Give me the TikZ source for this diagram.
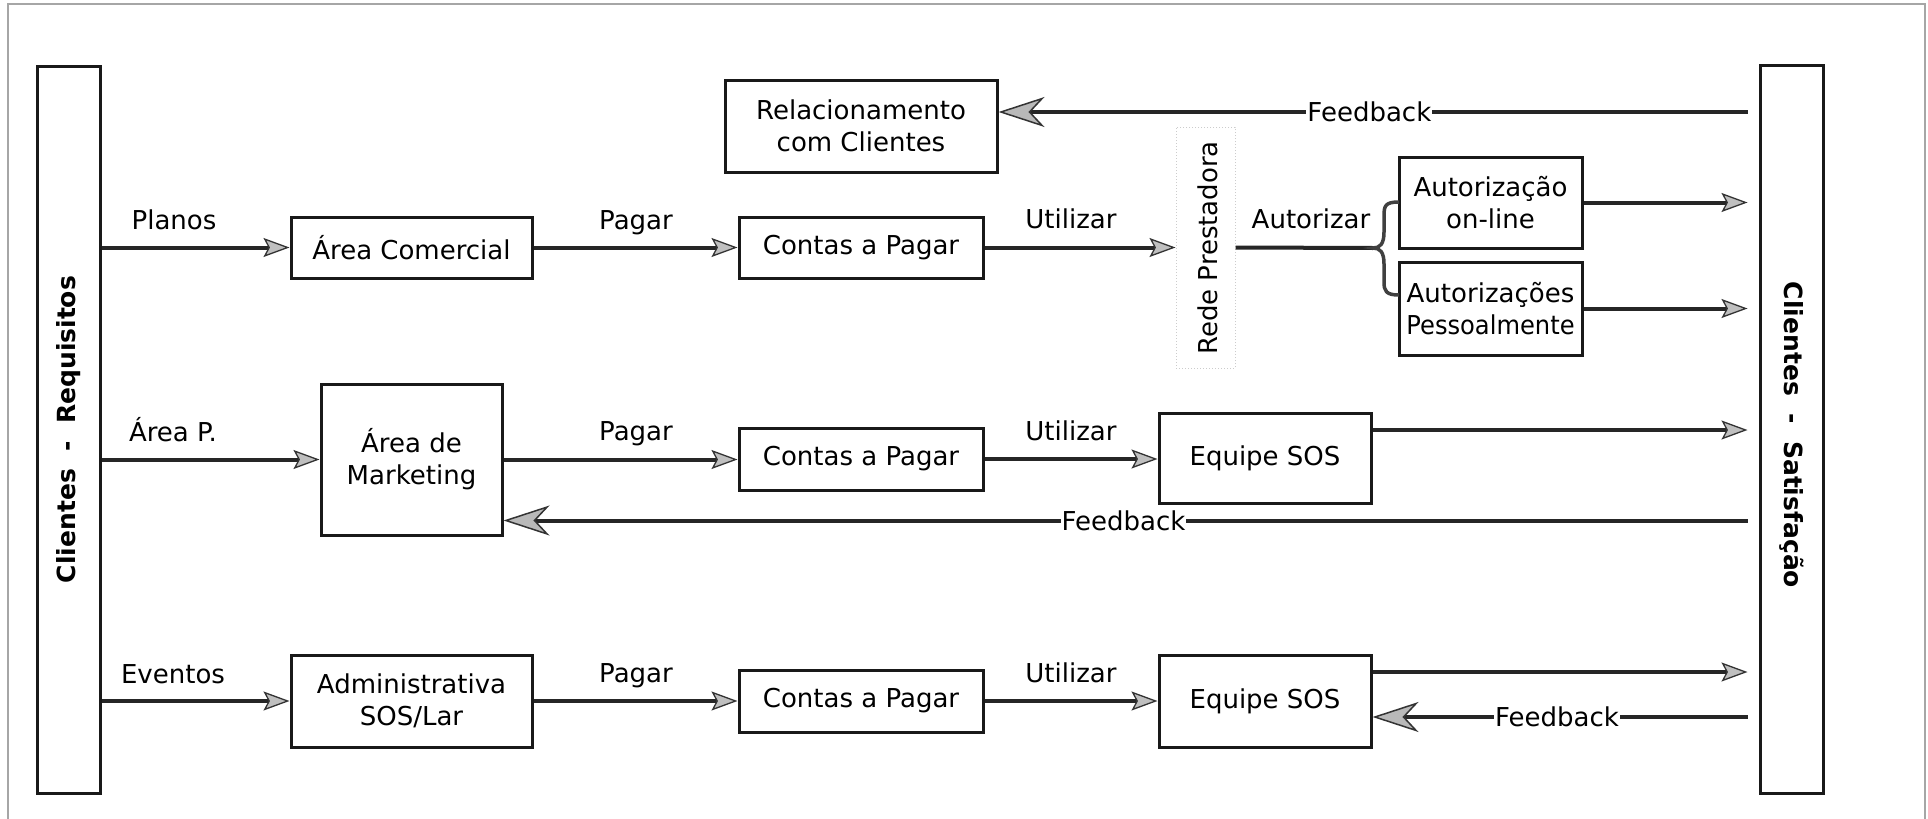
\documentclass[tikz,border=0pt]{standalone}
\usepackage{fontspec}
\usepackage{graphicx}
\setmainfont{DejaVu Sans}
\usetikzlibrary{arrows.meta}
\newcommand\txtsize{\fontsize{26}{32}\selectfont}
\tikzset{
  box/.style={draw=black!90, line width=3pt, inner sep=0pt, align=center,
    font=\txtsize},
  bar/.style={draw=black!90, line width=3pt, inner sep=0pt,
    minimum width=63pt, minimum height=727pt},
  bartext/.style={font=\fontsize{25}{30}\selectfont\bfseries, inner sep=0pt},
  lbl/.style={font=\txtsize, inner sep=0pt, anchor=base},
  fbl/.style={font=\txtsize, fill=white, inner sep=1pt},
  conn/.style={draw=black!85, line width=4pt},
  fwd/.style={conn, -{Stealth[length=26pt,width=19pt,inset=5pt,
    fill=gray!50,color=black!80,line width=1.3pt]}},
  fback/.style={conn, -{Stealth[length=46pt,width=30pt,inset=14pt,
    fill=gray!55,color=black!80,line width=1.5pt]}},
}
\begin{document}
\begin{tikzpicture}[x=1pt,y=-1pt]
\useasboundingbox (0,0) rectangle (1928,819);
% outer frame
\draw[gray!70, line width=2.5pt] (8,819) -- (8,4) -- (1925,4) -- (1925,819);

% side bars
\node[bar] (lbar) at (68.5,429.5) {};
\node[bartext, rotate=90] (ltxt) at (lbar) {Clientes\ \ -\ \ Requisitos};
\node[bar, minimum height=728pt] (rbar) at (1791.5,429) {};
\node[bartext, rotate=-90] (rtxt) at (1791.5,435) {Clientes\ \ -\ \ Satisfação};

% process boxes
\node[box, minimum width=272pt, minimum height=92pt] (rel) at (861,126) {Relacionamento\\com Clientes};
\node[box, minimum width=241pt, minimum height=61pt] (ac) at (411.5,247.5) {Área Comercial};
\node[box, minimum width=244pt, minimum height=61pt] (cp1) at (861,247.5) {Contas a Pagar};
\node[draw=gray!40, dotted, line width=1pt, inner sep=0pt,
      minimum width=59pt, minimum height=241pt] (rede) at (1205.5,247.5) {};
\node[font=\txtsize, inner sep=0pt, rotate=90] (redetxt) at (1208,248) {Rede Prestadora};
\node[box, minimum width=183pt, minimum height=91pt] (aon) at (1490.5,202.5) {Autorização\\on-line};
\node[box, minimum width=183pt, minimum height=93pt] (apess) at (1490.5,308.5)
  {Autorizações\\\scalebox{0.93}[1]{Pessoalmente}};
\node[box, minimum width=181pt, minimum height=151pt] (mk) at (411.5,459.5) {Área de\\Marketing};
\node[box, minimum width=244pt, minimum height=62pt] (cp2) at (861,459) {Contas a Pagar};
\node[box, minimum width=212pt, minimum height=90pt] (eq1) at (1265,458) {Equipe SOS};
\node[box, minimum width=241pt, minimum height=92pt] (adm) at (411.5,701) {Administrativa\\SOS/Lar};
\node[box, minimum width=244pt, minimum height=62pt] (cp3) at (861,701) {Contas a Pagar};
\node[box, minimum width=212pt, minimum height=92pt] (eq2) at (1265,701) {Equipe SOS};

% connector labels
\node[lbl] (l1) at (174,229) {Planos};
\node[lbl] (l2) at (636,229) {Pagar};
\node[lbl] (l3) at (1071,228) {Utilizar};
\node[lbl] (l4) at (1311,228) {Autorizar};
\node[lbl] (l5) at (173,441) {Área P.};
\node[lbl] (l6) at (636,440) {Pagar};
\node[lbl] (l7) at (1071,440) {Utilizar};
\node[lbl] (l8) at (173,683) {Eventos};
\node[lbl] (l9) at (636,682) {Pagar};
\node[lbl] (l10) at (1071,682) {Utilizar};

% first row
\draw[fwd] (ac.west -| lbar.east) -- (ac.west);
\draw[fwd] (ac.east) -- (cp1.west);
\draw[fwd] (cp1.east) -- (rede.west);
\coordinate (cusp) at (1373,248);
\draw[conn] (rede.east) -- (cusp);
\draw[black!75, line width=3.5pt]
  (1399,202) .. controls (1385,202) and (1384,206) .. (1384,216) -- (1384,232)
  .. controls (1384,244) and (1380,248) .. (cusp)
  .. controls (1380,248) and (1384,252) .. (1384,264) -- (1384,282)
  .. controls (1384,291) and (1386,295) .. (1399,295);
\draw[fwd, shorten >=11pt] (aon.east) -- (aon.east -| rbar.west);
\draw[fwd, shorten >=11pt] (apess.east) -- (apess.east -| rbar.west);
\coordinate (ft) at ([yshift=14pt]rel.east);
\draw[fback, shorten <=11pt] (ft -| rbar.west) -- node[fbl, pos=0.512] (fb1) {Feedback} (ft);

% second row
\draw[fwd] (mk.west -| lbar.east) -- (mk.west);
\draw[fwd] (mk.east) -- (mk.east -| cp2.west);
\draw[fwd] (cp2.east) -- (cp2.east -| eq1.west);
\coordinate (e1o) at ([yshift=28pt]eq1.east);
\draw[fwd, shorten >=11pt] (e1o) -- (e1o -| rbar.west);
\coordinate (fm) at ([yshift=-61pt]mk.east);
\draw[fback, shorten <=11pt] (fm -| rbar.west) -- node[fbl, pos=0.506] (fb2) {Feedback} (fm);

% third row
\draw[fwd] (adm.west -| lbar.east) -- (adm.west);
\draw[fwd] (adm.east) -- (cp3.west);
\draw[fwd] (cp3.east) -- (eq2.west);
\coordinate (e2o) at ([yshift=29pt]eq2.east);
\draw[fwd, shorten >=11pt] (e2o) -- (e2o -| rbar.west);
\coordinate (fbt) at ([yshift=-16pt]eq2.east);
\draw[fback, shorten <=11pt] (fbt -| rbar.west) -- node[fbl, pos=0.522] (fb3) {Feedback} (fbt);
\end{tikzpicture}
\end{document}
